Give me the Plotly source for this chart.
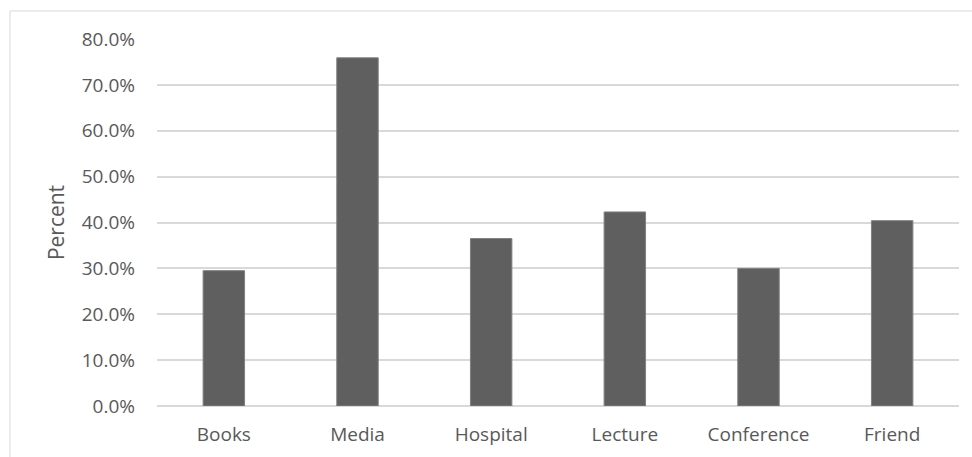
import plotly.graph_objects as go

categories = ["Books", "Media", "Hospital", "Lecture", "Conference", "Friend"]
percent_values = [0.295, 0.759, 0.365, 0.423, 0.300, 0.404]
y_tick_values = [0.0, 0.1, 0.2, 0.3, 0.4, 0.5, 0.6, 0.7, 0.8]
y_axis_title = "Percent"

FONT = "Open Sans"
TEXT_COLOR = "#595959"
GRID_COLOR = "#d9d9d9"

fig = go.Figure()
fig.add_trace(go.Bar(
    x=categories,
    y=percent_values,
    marker=dict(color="#5f5f5f", line=dict(color="#808080", width=1)),
    hoverinfo="x+y",
))

fig.update_layout(
    width=972,
    height=457,
    margin=dict(l=157, r=13, t=39, b=51, autoexpand=False),
    paper_bgcolor="white",
    plot_bgcolor="white",
    bargap=0.69,
    showlegend=False,
    font=dict(family=FONT, size=19, color=TEXT_COLOR),
    shapes=[dict(
        type="rect", xref="paper", yref="paper",
        x0=-0.1833, x1=1.2, y0=-0.3, y1=1.0763,
        line=dict(color=GRID_COLOR, width=1),
        fillcolor="rgba(0,0,0,0)", layer="below",
    )],
)

fig.update_xaxes(
    showline=False, showgrid=False, zeroline=False,
    ticks="", ticklabelstandoff=15,
    tickfont=dict(family=FONT, size=19, color=TEXT_COLOR),
    automargin=False,
)
fig.update_yaxes(
    range=[0, 0.8],
    tickvals=y_tick_values,
    tickformat=".1%",
    showgrid=True, gridcolor=GRID_COLOR, gridwidth=1.5,
    zeroline=True, zerolinecolor=GRID_COLOR, zerolinewidth=1.5,
    showline=False, ticks="", ticklabelstandoff=21,
    tickfont=dict(family=FONT, size=19, color=TEXT_COLOR),
    title=dict(text=y_axis_title, standoff=11, font=dict(family=FONT, size=21, color=TEXT_COLOR)),
    automargin=False,
)

fig.write_html("out.html")
